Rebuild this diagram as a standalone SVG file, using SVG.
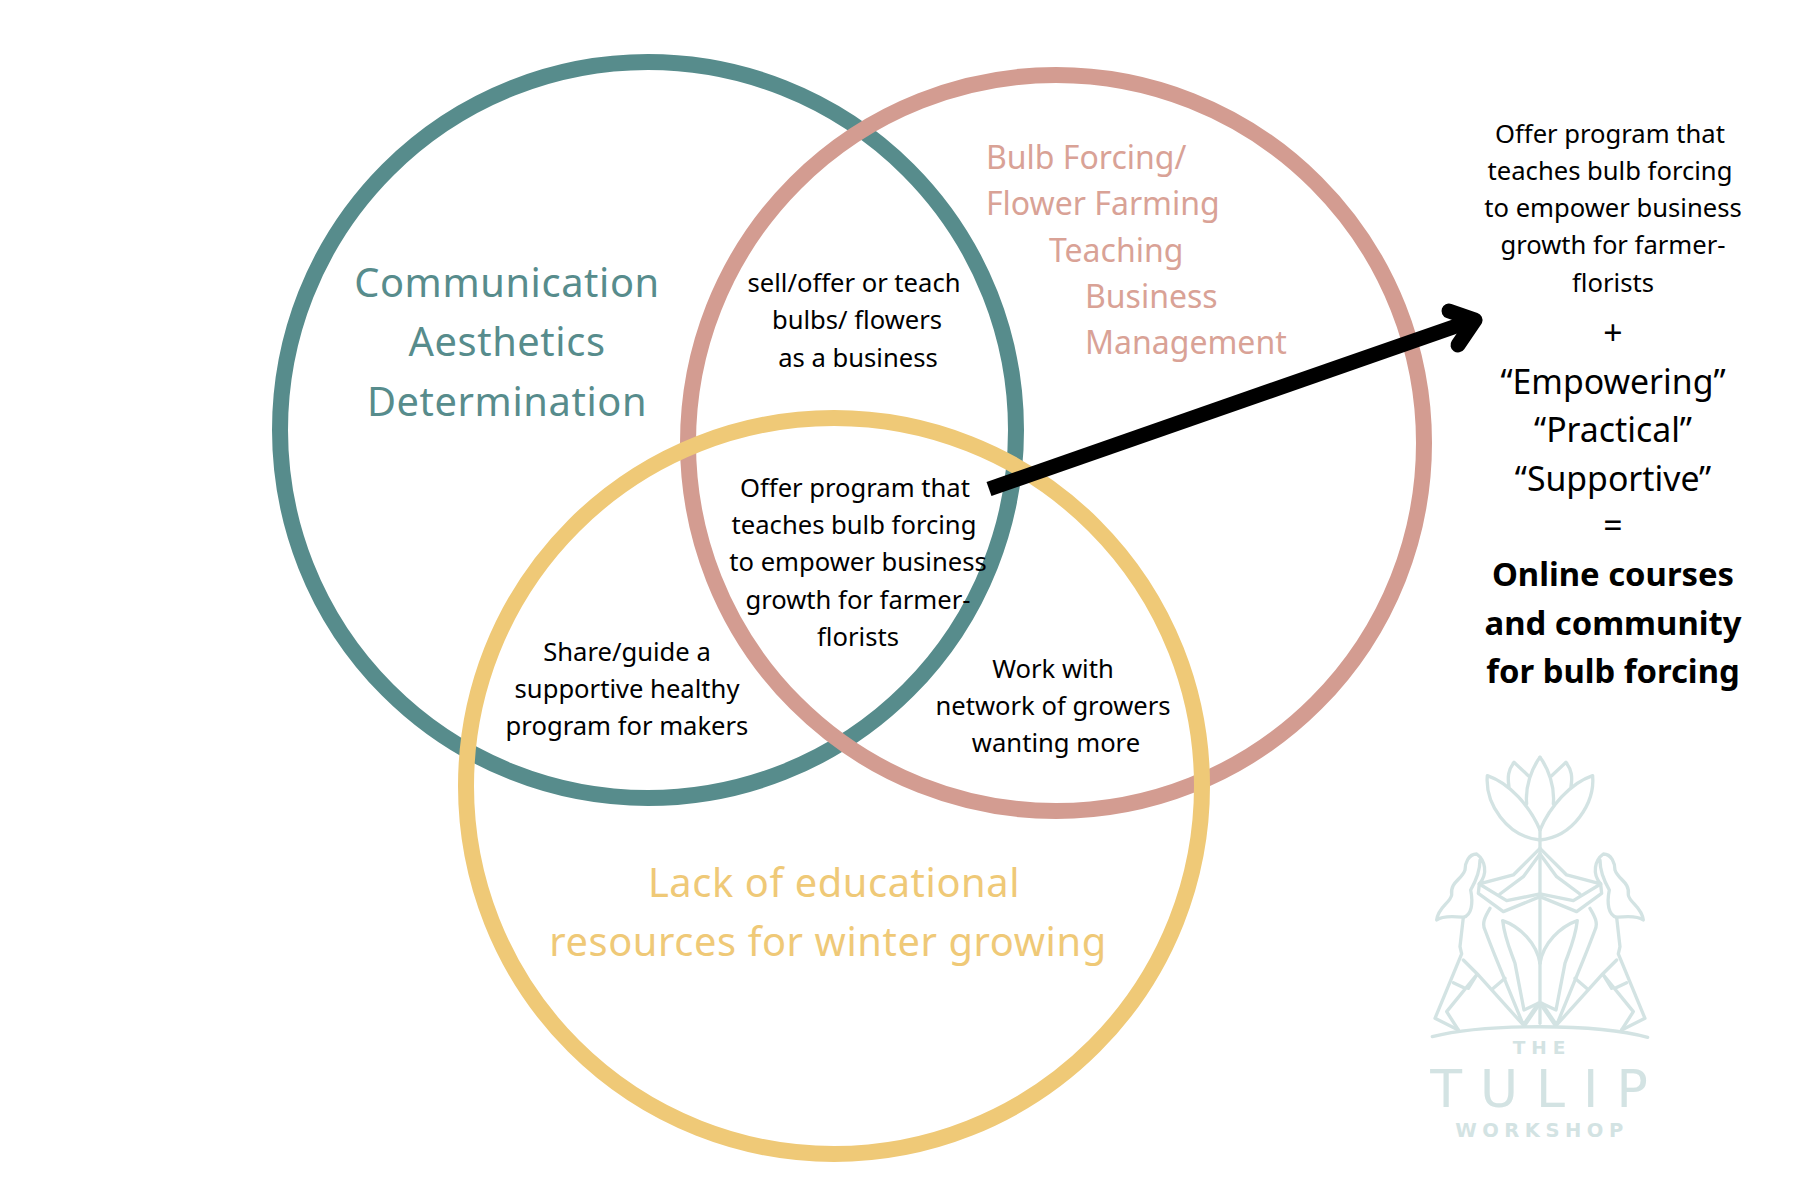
<svg xmlns="http://www.w3.org/2000/svg" width="1800" height="1200" viewBox="0 0 1800 1200">
<defs>
<g id="half">
<path d="M420 300C390 230 330 160 262 137C255 220 320 320 420 330"/>
<path d="M385 137L342 97C325 120 322 140 327 170"/>
<path d="M420 82C395 115 375 170 380 222"/>
<path d="M420 355L340 435L238 462L320 512L420 492"/>
<path d="M420 372L370 440L300 492"/>
<path d="M238 462L235 490L310 545L420 500"/>
<path d="M238 462C265 430 255 390 230 372C205 372 195 400 195 420C185 450 150 455 155 495C150 520 115 530 110 570C130 555 170 560 190 562C215 555 220 520 212 480C235 440 240 410 240 390"/>
<path d="M190 562L180 650L185 672L105 865L175 900"/>
<path d="M270 535C255 560 245 580 255 600C270 640 280 665 290 690L370 885L415 820"/>
<path d="M308 572C360 590 410 640 420 700M308 572C315 630 335 670 345 700L372 840L415 820"/>
<path d="M232 732L140 845L175 900M160 758L195 775M190 690L232 732L205 775M232 732L370 885M280 775L315 745"/>
<path d="M420 820L375 885"/>
</g>
</defs>
<style>
text{font-family:"Noto Sans","Open Sans",sans-serif;text-anchor:middle}
.ring{fill:none;stroke-width:16}
.s{font-size:25.6px;fill:#000}
.big{font-size:39.8px;letter-spacing:.6px}
.mid{font-size:32px;text-anchor:start}
.q{font-size:33.8px;fill:#000}
.b{font-size:32.8px;font-weight:700;fill:#000}
.logo{fill:none;stroke:#d3e3e3;stroke-width:10;stroke-linejoin:round;stroke-linecap:round}
.lt{fill:#d3e3e3;font-family:"DejaVu Sans",sans-serif}
</style>
<rect width="1800" height="1200" fill="#fff"/>
<g id="circle-teal"><circle class="ring" cx="648" cy="430" r="368" stroke="#578c8c"/></g>
<g id="circle-pink"><circle class="ring" cx="1056" cy="443" r="368" stroke="#d39c91"/></g>
<g id="circle-yellow"><circle class="ring" cx="834" cy="786" r="368" stroke="#efc977"/></g>
<g id="label-teal" fill="#578c8c"><text class="big" x="507" y="297">Communication</text><text class="big" x="507" y="356">Aesthetics</text><text class="big" x="507" y="416">Determination</text></g>
<g id="label-pink" fill="#d9a296"><text class="mid" x="986" y="169">Bulb Forcing/</text><text class="mid" x="986" y="215">Flower Farming</text><text class="mid" x="1049" y="262">Teaching</text><text class="mid" x="1085" y="308">Business</text><text class="mid" x="1085" y="354">Management</text></g>
<g id="label-yellow" fill="#efc977"><text class="big" x="834" y="897">Lack of educational</text><text class="big" x="828" y="956">resources for winter growing</text></g>
<g id="tb"><text class="s" x="854" y="292">sell/offer or teach</text><text class="s" x="857" y="329">bulbs/ flowers</text><text class="s" x="858" y="367">as a business</text></g>
<g id="center"><text class="s" x="855" y="497">Offer program that</text><text class="s" x="854" y="534">teaches bulb forcing</text><text class="s" x="858" y="571">to empower business</text><text class="s" x="858" y="609">growth for farmer-</text><text class="s" x="858" y="646">florists</text></g>
<g id="ty"><text class="s" x="627" y="661">Share/guide a</text><text class="s" x="627" y="698">supportive healthy</text><text class="s" x="627" y="735">program for makers</text></g>
<g id="py"><text class="s" x="1053" y="678">Work with</text><text class="s" x="1053" y="715">network of growers</text><text class="s" x="1056" y="752">wanting more</text></g>
<g id="result"><text class="s" x="1610" y="143">Offer program that</text><text class="s" x="1610" y="180">teaches bulb forcing</text><text class="s" x="1613" y="217">to empower business</text><text class="s" x="1613" y="254">growth for farmer-</text><text class="s" x="1613" y="292">florists</text><text class="q" x="1613" y="345">+</text><text class="q" x="1613" y="394">“Empowering”</text><text class="q" x="1613" y="442">“Practical”</text><text class="q" x="1613" y="491">“Supportive”</text><text class="q" x="1613" y="538">=</text><text class="b" x="1613" y="586">Online courses</text><text class="b" x="1613" y="635">and community</text><text class="b" x="1613" y="683">for bulb forcing</text></g>
<g id="connectors"><path d="M989 489L1465 323" fill="none" stroke="#000" stroke-width="15"/><path d="M1449 311L1475 320L1458 345" fill="none" stroke="#000" stroke-width="15" stroke-linecap="round" stroke-linejoin="round"/></g>
<g id="logo">
<g class="logo" transform="translate(1400 730) scale(.3333)">
<use href="#half"/><use href="#half" transform="translate(840 0) scale(-1 1)"/>
<path d="M420 300V880"/>
<path d="M97 920C250 880 590 880 743 922"/>
</g>
<text class="lt" x="1542" y="1054" font-size="18.5" font-weight="700" letter-spacing="6">THE</text>
<text class="lt" x="1548" y="1107" font-size="52" letter-spacing="18">TULIP</text>
<text class="lt" x="1542" y="1137" font-size="19.5" font-weight="700" letter-spacing="5.5">WORKSHOP</text>
</g>
</svg>
